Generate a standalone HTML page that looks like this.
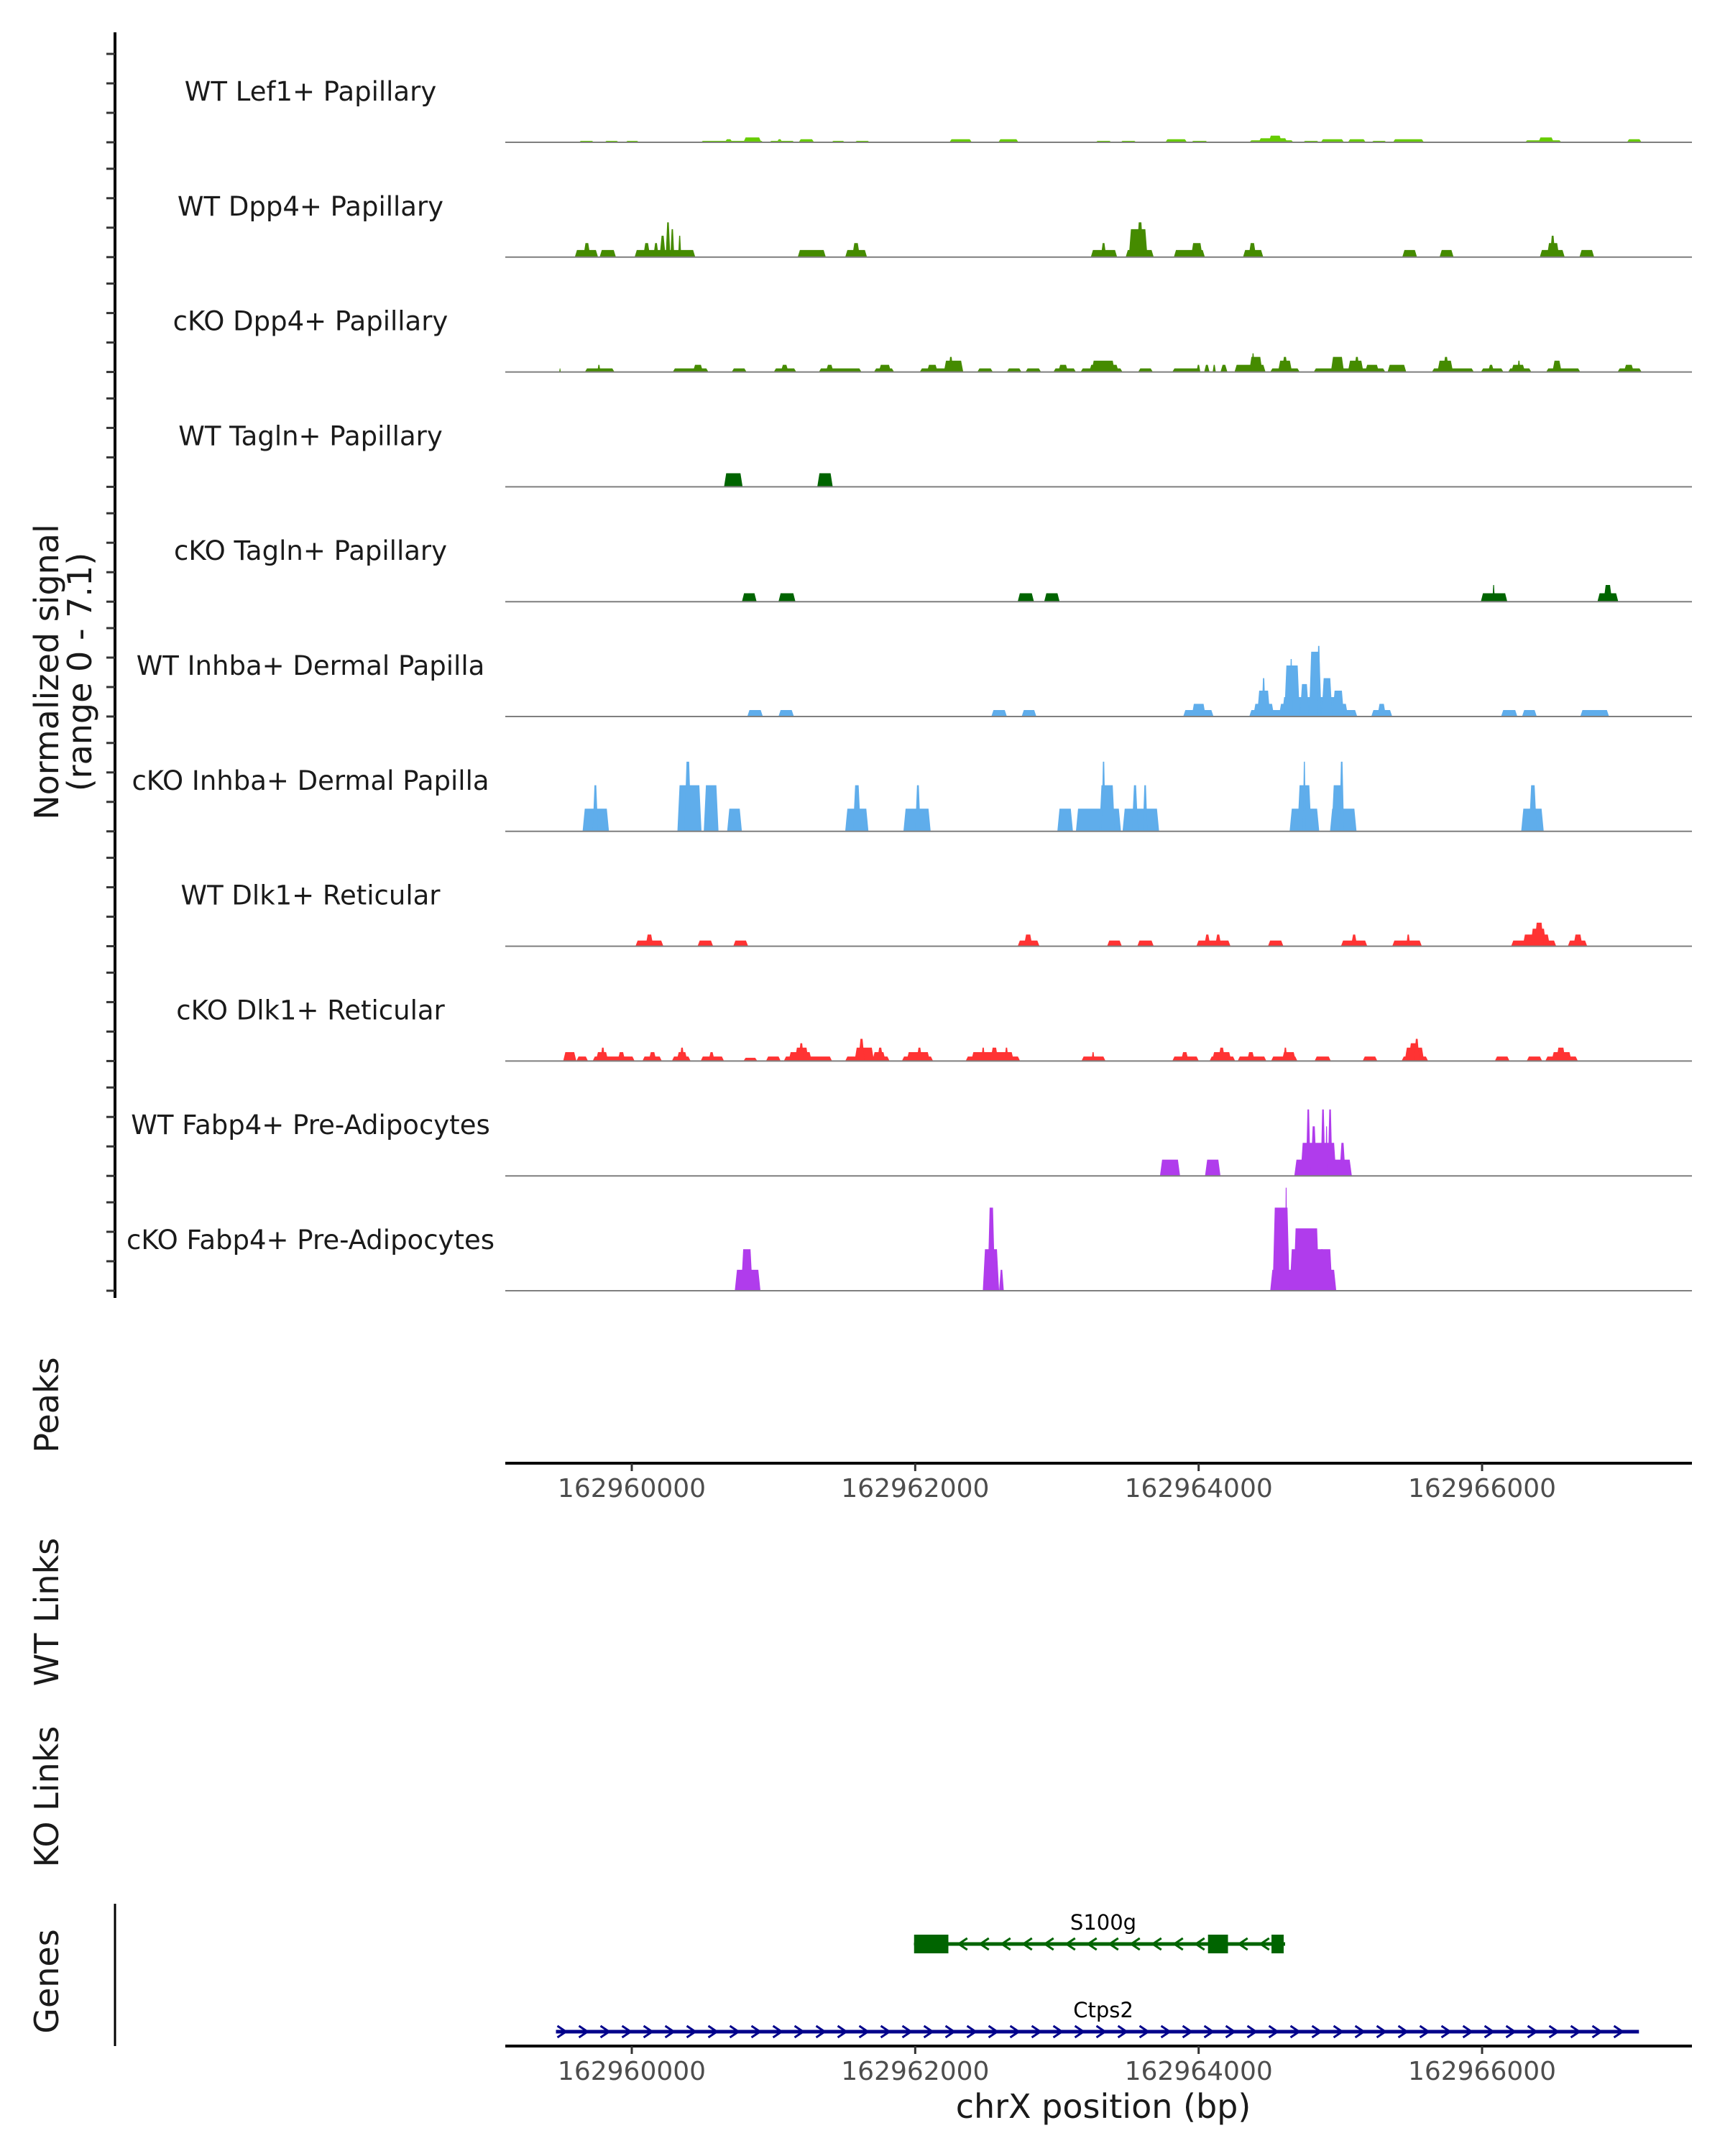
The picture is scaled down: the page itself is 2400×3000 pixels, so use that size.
<!DOCTYPE html>
<html><head><meta charset="utf-8"><style>
html,body{margin:0;padding:0;background:#fff;}
svg{display:block;font-family:"DejaVu Sans","Liberation Sans",sans-serif;}
</style></head><body>
<svg id="chart" width="2400" height="3000" viewBox="0 0 2400 3000" xmlns="http://www.w3.org/2000/svg">
<g id="tracks"></g>
<g id="yaxis"></g>
<text transform="translate(81,935) rotate(-90)" text-anchor="middle" font-size="46" fill="#1a1a1a">Normalized signal</text>
<text transform="translate(127,935) rotate(-90)" text-anchor="middle" font-size="46" fill="#1a1a1a">(range 0 - 7.1)</text>
<text transform="translate(81,1955) rotate(-90)" text-anchor="middle" font-size="46" fill="#1a1a1a">Peaks</text>
<text transform="translate(81,2243) rotate(-90)" text-anchor="middle" font-size="46" fill="#1a1a1a">WT Links</text>
<text transform="translate(81,2500) rotate(-90)" text-anchor="middle" font-size="46" fill="#1a1a1a">KO Links</text>
<text transform="translate(81,2757) rotate(-90)" text-anchor="middle" font-size="46" fill="#1a1a1a">Genes</text>
<line x1="160" y1="2649" x2="160" y2="2847" stroke="#000" stroke-width="3"/>
<g id="xaxes"></g>
<g id="genes"></g>
<text x="1535" y="2947" text-anchor="middle" font-size="46" fill="#1a1a1a">chrX position (bp)</text>
</svg>
<script>
const NS="http://www.w3.org/2000/svg";
const xTicks=[162960000,162962000,162964000,162966000];
const xTickLabels=["162960000","162962000","162964000","162966000"];
const yMax=7.1;
const trackNames=["WT Lef1+ Papillary","WT Dpp4+ Papillary","cKO Dpp4+ Papillary","WT Tagln+ Papillary","cKO Tagln+ Papillary","WT Inhba+ Dermal Papilla","cKO Inhba+ Dermal Papilla","WT Dlk1+ Reticular","cKO Dlk1+ Reticular","WT Fabp4+ Pre-Adipocytes","cKO Fabp4+ Pre-Adipocytes"];
const trackColors=["#66cc00","#458b00","#458b00","#006400","#006400","#5fadeb","#5fadeb","#ff3333","#ff3333","#b03cec","#b03cec"];
// blocks: [start bp, end bp, signal]
const lef1WT=[[162959625,162959735,0.09],[162959806,162959910,0.09],[162959954,162960053,0.09],[162960486,162960930,0.09],[162960656,162960711,0.19],[162960788,162960914,0.3],[162960969,162961150,0.09],[162961024,162961062,0.19],[162961177,162961287,0.19],[162961407,162961506,0.09],[162961572,162961681,0.09],[162962241,162962400,0.19],[162962586,162962729,0.19],[162963271,162963387,0.09],[162963447,162963562,0.09],[162963765,162963918,0.19],[162963946,162964066,0.09],[162964357,162964670,0.12],[162964423,162964626,0.25],[162964494,162964587,0.41],[162964735,162964851,0.09],[162964862,162965026,0.19],[162965053,162965179,0.19],[162965218,162965328,0.09],[162965371,162965590,0.19],[162966303,162966561,0.12],[162966397,162966506,0.3],[162967022,162967126,0.19]];
const dpp4WT=[[162959598,162959762,0.44],[162959658,162959708,0.87],[162959773,162959888,0.44],[162960020,162960448,0.44],[162960080,162960130,0.87],[162960152,162960190,0.87],[162960196,162960239,1.32],[162960239,162960272,2.15],[162960272,162960300,1.73],[162960327,162960349,1.32],[162961171,162961369,0.44],[162961506,162961660,0.44],[162961555,162961610,0.87],[162963239,162963425,0.44],[162963310,162963348,0.87],[162963485,162963683,0.44],[162963507,162963639,1.73],[162963562,162963611,2.15],[162963825,162964044,0.44],[162963946,162964028,0.87],[162964313,162964456,0.44],[162964352,162964406,0.87],[162965437,162965541,0.44],[162965700,162965799,0.44],[162966407,162966583,0.44],[162966457,162966545,0.87],[162966479,162966517,1.32],[162966687,162966791,0.44]];
const dpp4KO=[[162959488,162959499,0.22],[162959669,162959878,0.22],[162959757,162959779,0.44],[162960289,162960541,0.22],[162960431,162960503,0.44],[162960705,162960810,0.22],[162961002,162961161,0.22],[162961051,162961106,0.44],[162961320,162961621,0.22],[162961369,162961424,0.44],[162961709,162961851,0.22],[162961742,162961830,0.44],[162962032,162962339,0.22],[162962082,162962159,0.44],[162962202,162962339,0.7],[162962235,162962268,0.93],[162962438,162962548,0.22],[162962646,162962750,0.22],[162962778,162962888,0.22],[162962975,162963134,0.22],[162963008,162963079,0.44],[162963167,162963463,0.22],[162963227,162963436,0.44],[162963244,162963409,0.7],[162963573,162963677,0.22],[162963814,162964012,0.22],[162963985,162964012,0.44],[162964039,162964077,0.44],[162964099,162964121,0.44],[162964154,162964203,0.44],[162964253,162964472,0.44],[162964357,162964450,0.93],[162964373,162964395,1.15],[162964505,162964713,0.22],[162964560,162964659,0.7],[162964587,162964631,0.93],[162964812,162965317,0.22],[162964933,162965026,0.93],[162965053,162965163,0.7],[162965097,162965136,0.93],[162965174,162965273,0.44],[162965333,162965465,0.44],[162965646,162965942,0.22],[162965685,162965795,0.7],[162965724,162965767,0.93],[162965992,162966151,0.22],[162966041,162966085,0.44],[162966184,162966348,0.22],[162966205,162966304,0.44],[162966249,162966271,0.7],[162966452,162966693,0.22],[162966496,162966561,0.7],[162966956,162967126,0.22],[162967000,162967071,0.44]];
const taglnWT=[[162960651,162960782,0.84],[162961309,162961418,0.84]];
const taglnKO=[[162960777,162960881,0.52],[162961035,162961155,0.52],[162962723,162962838,0.52],[162962910,162963019,0.52],[162965991,162966178,0.52],[162966073,162966090,1.03],[162966814,162966961,0.52],[162966857,162966918,1.03]];
const inhbaWT=[[162960815,162960925,0.4],[162961035,162961144,0.4],[162962537,162962647,0.4],[162962751,162962855,0.4],[162963891,162964105,0.4],[162963951,162964050,0.78],[162964357,162965119,0.4],[162964385,162964533,0.78],[162964412,162964505,1.6],[162964445,162964472,2.37],[162964566,162965054,0.78],[162964588,162965000,1.2],[162964604,162964714,3.15],[162964642,162964664,3.55],[162964714,162964779,2.0],[162964779,162964867,4.0],[162964834,162964861,4.36],[162964867,162964944,2.37],[162964944,162965026,1.6],[162965218,162965366,0.4],[162965261,162965322,0.78],[162966134,162966249,0.4],[162966282,162966386,0.4],[162966693,162966896,0.4]];
const inhbaKO=[[162959653,162959839,1.4],[162959724,162959762,2.85],[162960322,162960492,2.85],[162960371,162960420,4.3],[162960508,162960612,2.85],[162960673,162960777,1.4],[162961506,162961670,1.4],[162961561,162961616,2.85],[162961917,162962109,1.4],[162962000,162962038,2.85],[162963003,162963113,1.4],[162963134,162963452,1.4],[162963299,162963409,2.85],[162963315,162963343,4.3],[162963463,162963721,1.4],[162963529,162963573,2.85],[162963606,162963639,2.85],[162964642,162964851,1.4],[162964697,162964796,2.85],[162964735,162964757,4.3],[162964927,162965114,1.4],[162964938,162965026,2.85],[162964993,162965026,4.3],[162966276,162966435,1.4],[162966331,162966386,2.85]];
const dlk1WT=[[162960026,162960223,0.35],[162960097,162960152,0.72],[162960464,162960574,0.35],[162960716,162960821,0.35],[162962723,162962877,0.35],[162962767,162962827,0.72],[162963354,162963458,0.35],[162963567,162963683,0.35],[162963984,162964225,0.35],[162964039,162964083,0.72],[162964116,162964160,0.72],[162964489,162964598,0.35],[162965004,162965190,0.35],[162965075,162965119,0.72],[162965366,162965575,0.35],[162965465,162965493,0.72],[162966205,162966523,0.35],[162966287,162966479,0.72],[162966342,162966452,1.08],[162966370,162966435,1.45],[162966605,162966742,0.35],[162966644,162966709,0.72]];
const dlk1KO=[[162959516,162959609,0.55],[162959609,162959691,0.28],[162959724,162960020,0.28],[162959746,162959834,0.55],[162959779,162959812,0.83],[162959900,162959954,0.55],[162960075,162960212,0.28],[162960119,162960174,0.55],[162960283,162960415,0.28],[162960316,162960393,0.55],[162960338,162960371,0.83],[162960486,162960651,0.28],[162960541,162960585,0.55],[162960788,162960886,0.2],[162960947,162961051,0.28],[162961073,162961413,0.28],[162961106,162961270,0.55],[162961150,162961248,0.83],[162961177,162961215,1.1],[162961506,162961819,0.28],[162961572,162961709,0.83],[162961599,162961643,1.37],[162961698,162961791,0.55],[162961731,162961775,0.83],[162961906,162962126,0.28],[162961939,162962104,0.55],[162962010,162962049,0.83],[162962356,162962740,0.28],[162962395,162962696,0.55],[162962466,162962493,0.83],[162962531,162962586,0.83],[162962630,162962658,0.83],[162963173,162963343,0.28],[162963244,162963266,0.55],[162963814,162964001,0.28],[162963875,162963929,0.55],[162964077,162964258,0.28],[162964094,162964231,0.55],[162964138,162964187,0.83],[162964275,162964478,0.28],[162964341,162964396,0.55],[162964511,162964697,0.28],[162964587,162964686,0.55],[162964598,162964626,0.83],[162964818,162964933,0.28],[162965157,162965261,0.28],[162965432,162965619,0.28],[162965454,162965591,0.83],[162965482,162965548,1.1],[162965520,162965558,1.37],[162966090,162966194,0.28],[162966315,162966424,0.28],[162966446,162966676,0.28],[162966490,162966632,0.55],[162966523,162966589,0.83]];
const fabp4WT=[[162963727,162963869,1.0],[162964045,162964154,1.0],[162964675,162965081,1.0],[162964719,162964971,2.04],[162964757,162964790,4.1],[162964790,162964834,3.06],[162964861,162964894,4.1],[162964894,162964911,3.06],[162964911,162964944,4.1],[162964993,162965037,2.04]];
const fabp4KO=[[162960727,162960908,1.29],[162960771,162960853,2.56],[162962477,162962592,2.56],[162962510,162962564,5.13],[162962592,162962625,1.29],[162964505,162964971,1.29],[162964522,162964642,5.13],[162964609,162964626,6.36],[162964642,162964889,2.56],[162964669,162964851,3.85],[162964851,162964944,2.56]];
const trackData=[lef1WT,dpp4WT,dpp4KO,taglnWT,taglnKO,inhbaWT,inhbaKO,dlk1WT,dlk1KO,fabp4WT,fabp4KO];
const geneNames=["S100g","Ctps2"];
const geneStarts=[162961992,162959465];
const geneEnds=[162964610,162967107];
const s100gExons=[[162961992,162962234],[162964066,162964207],[162964514,162964600]];

const X0=703,X1=2354;
const xs=bp=>879+(bp-162960000)*0.19717;
const trackBase=i=>198+i*159.8;
const trackH=160;
const ys=(i,v)=>trackBase(i)-v/yMax*trackH;

function el(tag,attrs,parent){const e=document.createElementNS(NS,tag);for(const k in attrs)e.setAttribute(k,attrs[k]);parent.appendChild(e);return e;}
const gT=document.getElementById('tracks');
trackNames.forEach((name,i)=>{
  const g=el('g',{},gT);
  
  
  const lab=el('text',{x:432,y:trackBase(i)-58,'text-anchor':'middle','font-size':37,fill:'#1a1a1a'},g);
  lab.textContent=name;
  
  
  trackData[i].forEach(b=>{
    const xa=xs(b[0]),xb=xs(b[1]),yb=trackBase(i),yt=ys(i,b[2]);
    const s=Math.min(3,(xb-xa)/3);
    const p=el('polygon',{points:`${xa},${yb} ${xa+s},${yt} ${xb-s},${yt} ${xb},${yb}`,fill:trackColors[i]},g);
    
    
  });
  const bl=el('line',{x1:X0,x2:X1,y1:trackBase(i),y2:trackBase(i),stroke:'#7f7f7f','stroke-width':2},g);
  
  
});
const gY=document.getElementById('yaxis');
const ax=el('line',{x1:160,x2:160,y1:45,y2:1806,stroke:'#000','stroke-width':4},gY);


for(let i=0;i<11;i++){for(let k=0;k<4;k++){
  const y=trackBase(i)-k*41;
  const t=el('line',{x1:148,x2:160,y1:y,y2:y,stroke:'#333','stroke-width':3},gY);
  
  
}}
const gX=document.getElementById('xaxes');
[[2036,2083],[2847,2894]].forEach((a,j)=>{
  const l=el('line',{x1:X0,x2:X1,y1:a[0],y2:a[0],stroke:'#000','stroke-width':4},gX);
  
  
  xTicks.forEach((t,k)=>{
    const tk=el('line',{x1:xs(t),x2:xs(t),y1:a[0],y2:a[0]+11,stroke:'#333','stroke-width':3},gX);
    
    
    const tl=el('text',{x:xs(t),y:a[1],'text-anchor':'middle','font-size':36,fill:'#4d4d4d'},gX);
    tl.textContent=xTickLabels[k];
    
    
  });
});
const gG=document.getElementById('genes');
const geneY=[2705,2827], geneCol=["#006400","#00008b"], geneDir=[-1,1];
geneNames.forEach((n,i)=>{
  const g=el('g',{},gG);
  
  
  const xa=xs(geneStarts[i]),xb=xs(geneEnds[i]),y=geneY[i];
  el('line',{x1:xa,x2:xb,y1:y,y2:y,stroke:geneCol[i],'stroke-width':5},g);
  for(let x=xa+8;x<xb-4;x+=30){
    const d=geneDir[i]*6;
    el('polyline',{points:`${x-d},${y-8} ${x+d},${y} ${x-d},${y+8}`,fill:'none',stroke:geneCol[i],'stroke-width':3},g);
  }
  const t=el('text',{x:1535,y:y-20,'text-anchor':'middle','font-size':29,fill:'#000'},g);
  t.textContent=n;
  
  
});
s100gExons.forEach(e=>{
  const r=el('rect',{x:xs(e[0]),y:2692,width:xs(e[1])-xs(e[0]),height:26,fill:'#006400'},gG);
  
  
});
</script>
</body></html>
